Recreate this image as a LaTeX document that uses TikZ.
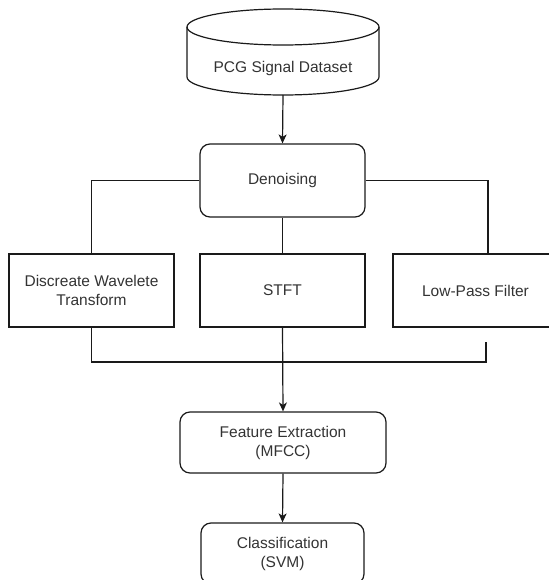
\documentclass[tikz,border=0pt]{standalone}
\usepackage{fontspec}
\setmainfont{Liberation Sans}
\usetikzlibrary{arrows.meta,calc}
\definecolor{txt}{HTML}{333333}
\definecolor{ln}{HTML}{1A1A1A}
\begin{document}
\begin{tikzpicture}[x=1pt,y=-1pt,
  every node/.style={font=\fontsize{15.5}{19}\selectfont, text=txt, align=center, inner sep=0pt},
  rbox/.style={draw=ln, line width=1.2pt, rounded corners=10pt},
  sbox/.style={draw=ln, line width=1.2pt},
  conn/.style={draw=ln, line width=1.2pt},
  arr/.style={conn, -{Stealth[length=9pt,width=8pt,inset=2.5pt]}}]
\useasboundingbox (0,0) rectangle (548,580);
% cylinder
\draw[conn, fill=white] (187,27) -- (187,77) arc[start angle=180,end angle=0,x radius=96,y radius=18] -- (379,27);
\draw[conn] (283,27) ellipse[x radius=96,y radius=18];
\node (ds) at (283,68) {PCG Signal Dataset};
\coordinate (dsb) at (283,95);
% nodes
\node[rbox, minimum width=165pt, minimum height=73pt] (den) at (282.5,180.5) {Denoising};
\node[sbox, minimum width=165pt, minimum height=73pt] (dwt) at (91.5,290.5) {Discreate Wavelete\\Transform};
\node[sbox, minimum width=165pt, minimum height=73pt] (stft) at (282.5,290.5) {STFT};
\node[sbox, minimum width=165pt, minimum height=73pt] (lpf) at (475.5,290.5) {Low-Pass Filter};
\node[rbox, minimum width=206pt, minimum height=61pt] (fe) at (283,442.5) {Feature Extraction\\(MFCC)};
\node[rbox, minimum width=163pt, minimum height=61pt] (cls) at (282.5,553.5) {Classification\\(SVM)};
\coordinate (lpft) at ([xshift=12.5pt]lpf.north);
\coordinate (lpfb) at ([xshift=10.5pt,yshift=-14pt]lpf.south);
\coordinate (jn) at (283,362);
% connectors
\draw[arr] (dsb) -- (den.north);
\draw[conn] (den.west) -| (dwt.north);
\draw[conn] (den.south) -- (stft.north);
\draw[conn] (den.east) -| (lpft);
\draw[conn] (dwt.south) |- (jn) -| (lpfb);
\draw[arr] (stft.south) -- (fe.north);
\draw[arr] (fe.south) -- (cls.north);
\end{tikzpicture}
\end{document}
